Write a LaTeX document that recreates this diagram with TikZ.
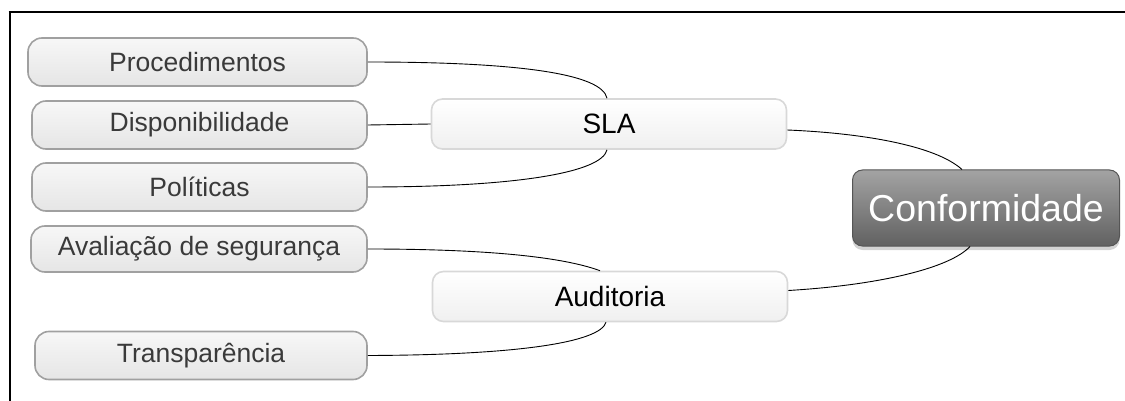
\documentclass[tikz,border=0pt]{standalone}
\usepackage{fontspec}
\setmainfont{Liberation Sans}
\usetikzlibrary{shadows}
\definecolor{leaffill}{HTML}{EFEFEF}
\definecolor{leafedge}{HTML}{A0A0A0}
\definecolor{leaftext}{HTML}{3A3A3A}
\definecolor{midedge}{HTML}{D8D8D8}
\definecolor{rootedge}{HTML}{555555}
\tikzset{
  leaf/.style={draw=leafedge, line width=1.6pt, rounded corners=14pt,
    top color=white!50!leaffill, bottom color=leaffill!96!black,
    text=leaftext, font=\fontsize{26.5}{30}\selectfont,
    minimum height=48pt, inner sep=0pt},
  mid/.style={draw=midedge, line width=1.6pt, rounded corners=11pt,
    top color=white, bottom color=white!94!black,
    text=black, font=\fontsize{28}{32}\selectfont,
    minimum width=355pt, minimum height=50pt, inner sep=0pt},
  root/.style={draw=rootedge, line width=1pt, rounded corners=10pt,
    top color=black!36, bottom color=black!62,
    text=white, font=\fontsize{37.5}{42}\selectfont,
    minimum width=267pt, minimum height=76pt, inner sep=0pt,
    drop shadow={shadow xshift=0pt, shadow yshift=-4pt, opacity=0.35}},
  link/.style={draw=black, line width=0.9pt},
  frameline/.style={draw=black, line width=2.6pt}
}
\begin{document}
\begin{tikzpicture}[x=1pt,y=-1pt]
\useasboundingbox (0,0) rectangle (1125,401);
\draw[frameline] (8.7,12) -- (1125,12);
\draw[frameline] (10,12) -- (10,401);

\node[leaf, minimum width=339pt] (proc) at (197.5,62) {Procedimentos};
\node[leaf, minimum width=335pt] (disp) at (199.5,125) {Disponibilidade};
\node[leaf, minimum width=335pt] (pol)  at (199.5,187) {Políticas};
\node[leaf, minimum width=336pt, minimum height=46pt] (aval) at (199,249) {Avaliação de segurança};
\node[leaf, minimum width=332pt] (trans) at (201,355.5) {Transparência};

\node[mid] (sla) at (609,124) {SLA};
\node[mid] (aud) at (610,296.5) {Auditoria};

\node[root] (conf) at (986,208) {Conformidade};

\draw[link] (proc.east) .. controls (520,62) and (602,74) .. ([xshift=-2pt]sla.north);
\draw[link] (disp.east) -- (sla.west);
\draw[link] (pol.east) .. controls (520,187) and (602,172) .. ([xshift=-2pt]sla.south);
\draw[link] (aval.east) .. controls (480,249) and (560,256) .. ([xshift=-10pt]aud.north);
\draw[link] (trans.east) .. controls (520,355) and (600,342) .. ([xshift=-4pt]aud.south);
\draw[link] ([yshift=-6pt]sla.east) .. controls (860,133) and (935,145) .. ([xshift=-24pt]conf.north);
\draw[link] ([yshift=6pt]aud.east) .. controls (880,285) and (950,268) .. ([xshift=-16pt]conf.south);
\end{tikzpicture}
\end{document}
